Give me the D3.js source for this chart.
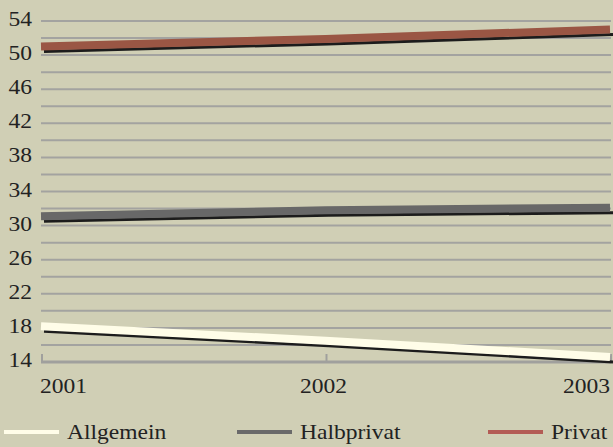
<!DOCTYPE html>
<html>
<head>
<meta charset="utf-8">
<script src="https://cdn.jsdelivr.net/npm/d3@7/dist/d3.min.js"></script>
<style>
  body { margin: 0; background: #d0cfb5; }
  svg { display: block; }
  text { fill: #222; }
</style>
</head>
<body>
<div id="chart"></div>
<script>
var years = ["2001", "2002", "2003"];
var allgemein = [18.2, 16.5, 14.6];
var halbprivat = [31.1, 31.8, 32.1];
var privat = [51.0, 51.9, 53.0];
var yTicks = [14, 18, 22, 26, 30, 34, 38, 42, 46, 50, 54];
var gridValues = d3.range(16, 55, 2);

var series = [
  {name: "Allgemein", values: allgemein, color: "#fffde8", key: "#fffde8"},
  {name: "Halbprivat", values: halbprivat, color: "#686868", key: "#6a6a6a"},
  {name: "Privat", values: privat, color: "#9a5644", key: "#b35c55"}
];

var FONT = "'Liberation Serif', 'Times New Roman', serif";
var width = 613, height = 447;

var svg = d3.select("#chart").append("svg")
    .attr("width", width)
    .attr("height", height);

// Scales
var x = d3.scalePoint()
    .domain(years)
    .range([41, 610]);

var y = d3.scaleLinear()
    .domain([14, 54])
    .range([362, 21]);

// text is a bit wider than plain Times in the original
function addText(parent, tx, ty, anchor, str) {
  return parent.append("text")
      .attr("transform", "translate(" + tx + "," + ty + ") scale(1.07,1)")
      .attr("text-anchor", anchor)
      .style("font-family", FONT)
      .style("font-size", "22px")
      .text(str);
}

// Grid
svg.append("g")
    .attr("class", "grid")
  .selectAll("line")
  .data(gridValues)
  .enter().append("line")
    .attr("x1", 41)
    .attr("x2", 611)
    .attr("y1", function(d) { return y(d); })
    .attr("y2", function(d) { return y(d); })
    .attr("stroke", "#a3a3a0")
    .attr("stroke-width", 2);

// Bottom axis line with ticks
svg.append("line")
    .attr("x1", 41).attr("x2", 611)
    .attr("y1", y(14)).attr("y2", y(14))
    .attr("stroke", "#a0a09d")
    .attr("stroke-width", 3);

svg.append("g")
  .selectAll("line")
  .data(years)
  .enter().append("line")
    .attr("x1", function(d) { return x(d) + 1; })
    .attr("x2", function(d) { return x(d) + 1; })
    .attr("y1", y(14) - 8)
    .attr("y2", y(14))
    .attr("stroke", "#a0a09d")
    .attr("stroke-width", 2);

// Y labels
var yLabels = svg.append("g");
yTicks.forEach(function(d) {
  addText(yLabels, 32, y(d) + 5, "end", d);
});

// X labels
var xLabels = svg.append("g");
years.forEach(function(d, i) {
  var anchor = i === 0 ? "start" : (i === 2 ? "end" : "middle");
  var tx = i === 0 ? 40 : (i === 2 ? 610 : x(d) - 2);
  addText(xLabels, tx, 393, anchor, d);
});

// Lines
var line = d3.line()
    .x(function(d, i) { return x(years[i]); })
    .y(function(d) { return y(d); });

var lines = svg.append("g").attr("class", "lines");

series.forEach(function(s) {
  // shadow
  lines.append("path")
      .attr("d", line(s.values))
      .attr("transform", "translate(3,5)")
      .attr("fill", "none")
      .attr("stroke", "#1c1c1c")
      .attr("stroke-width", 3);
  lines.append("path")
      .attr("d", line(s.values))
      .attr("fill", "none")
      .attr("stroke", s.color)
      .attr("stroke-width", 8);
});

// Legend
var legendX = [4, 237, 488];
var legend = svg.append("g").attr("class", "legend");
series.forEach(function(s, i) {
  legend.append("line")
      .attr("x1", legendX[i]).attr("x2", legendX[i] + 55)
      .attr("y1", 432).attr("y2", 432)
      .attr("stroke", s.key)
      .attr("stroke-width", 4);
  addText(legend, legendX[i] + 63, 439, "start", s.name);
});
</script>
</body>
</html>
